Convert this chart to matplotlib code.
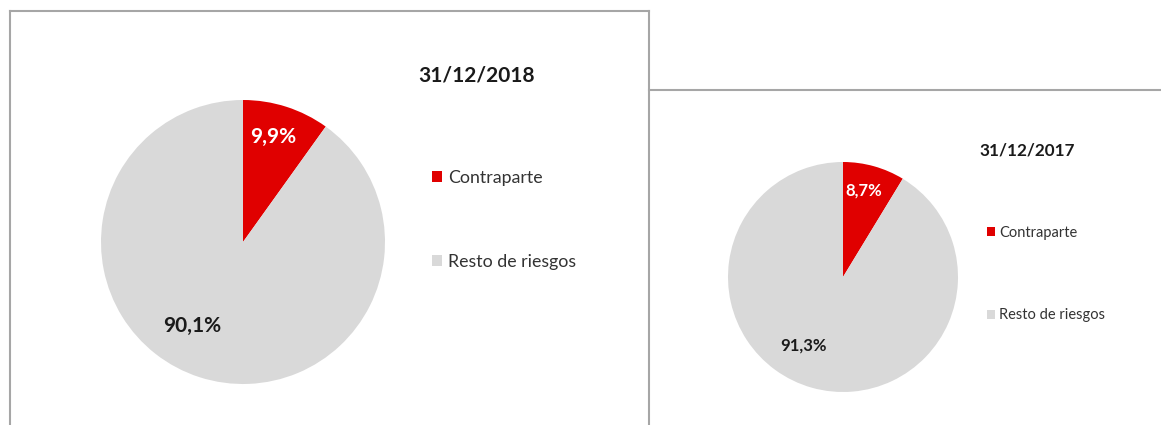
import matplotlib
matplotlib.use("Agg")
import matplotlib.pyplot as plt
from matplotlib.lines import Line2D

plt.rcParams['font.family'] = ['Lato', 'DejaVu Sans']

categories = ["Contraparte", "Resto de riesgos"]
values_2018 = [9.9, 90.1]
values_2017 = [8.7, 91.3]
titles = ["31/12/2018", "31/12/2017"]

colors = ["#E00000", "#D9D9D9"]
label_colors = ["white", "#1a1a1a"]
border = "#A6A6A6"

W, H = 1161, 425
fig = plt.figure(figsize=(W / 100, H / 100), dpi=100)


def px_axes(cx, cy, r):
    return fig.add_axes([(cx - r) / W, (H - cy - r) / H, 2 * r / W, 2 * r / H])


def fmt(v):
    return f"{v:.1f}%".replace(".", ",")


def draw_pie(cx, cy, r, vals, label_pos, fs):
    ax = px_axes(cx, cy, r)
    wedges, _ = ax.pie(vals, colors=colors, startangle=90, counterclock=False,
                       radius=1, wedgeprops=dict(linewidth=0))
    ax.set_xlim(-1, 1)
    ax.set_ylim(-1, 1)
    ax.set_aspect("equal")
    ax.axis("off")
    for v, (x, y), c in zip(vals, label_pos, label_colors):
        ax.text(x, y, fmt(v), ha="center", va="center", color=c,
                fontsize=fs, fontweight="bold")
    return wedges


# left panel (2018)
w18 = draw_pie(243, 242, 142, values_2018, [(0.21, 0.74), (-0.36, -0.59)], 15)
fig.text(477 / W, 1 - 75 / H, titles[0], ha="center", va="center",
         fontsize=15, fontweight="bold", color="#1a1a1a")
fig.legend(w18, categories, loc="center left",
           bbox_to_anchor=(432 / W, 1 - 220 / H), frameon=False,
           fontsize=12.8, labelspacing=3.8, handlelength=0.58, handleheight=0.58,
           handletextpad=0.3, borderpad=0, borderaxespad=0, labelcolor="#333333")

# right panel (2017)
w17 = draw_pie(843, 277, 115, values_2017, [(0.18, 0.75), (-0.34, -0.60)], 12)
fig.text(1027 / W, 1 - 150 / H, titles[1], ha="center", va="center",
         fontsize=12.3, fontweight="bold", color="#1a1a1a")
fig.legend(w17, categories, loc="center left",
           bbox_to_anchor=(987 / W, 1 - 274 / H), frameon=False,
           fontsize=10.5, labelspacing=4.7, handlelength=0.55, handleheight=0.55,
           handletextpad=0.3, borderpad=0, borderaxespad=0, labelcolor="#333333")

# panel borders
def line(xs, ys):
    fig.add_artist(Line2D([x / W for x in xs], [1 - y / H for y in ys],
                          color=border, linewidth=1.5))

line([10, 649], [11, 11])
line([10, 10], [11, 425])
line([649, 649], [11, 425])
line([649, 1161], [90, 90])

fig.savefig("out.png", dpi=100)
